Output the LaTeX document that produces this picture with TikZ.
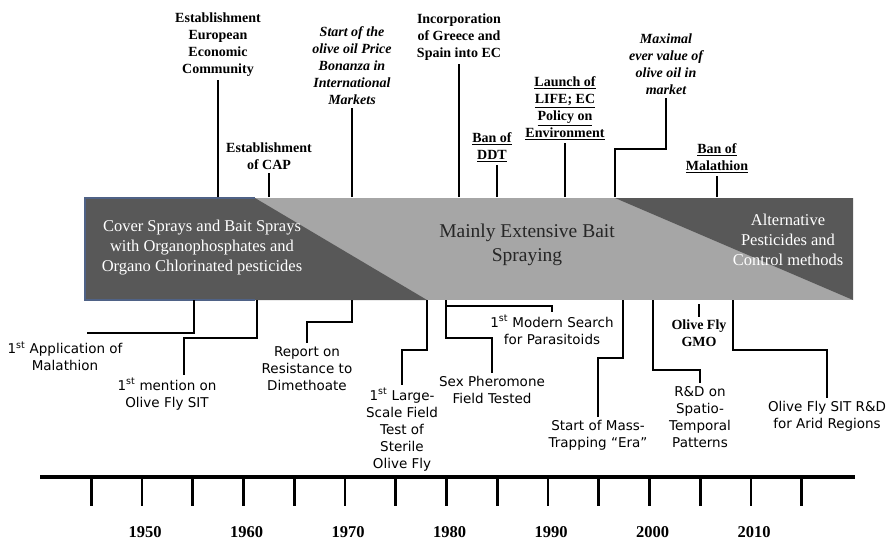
\documentclass[tikz,border=0pt]{standalone}
\usepackage{fontspec}
\setmainfont{Liberation Serif}
\newfontfamily\comicfont{DejaVu Sans}
\usepackage{tikz}
\usepackage{xcolor}
\definecolor{banddark}{HTML}{585858}
\definecolor{bandlight}{HTML}{A6A6A6}
\definecolor{bandedge}{HTML}{4F6286}

\begin{document}
\begin{tikzpicture}[x=1pt, y=-1pt,
    toplabel/.style={align=center, inner sep=3pt, font=\fontsize{14}{17}\selectfont\bfseries},
    topital/.style={toplabel, font=\fontsize{14}{17}\selectfont\bfseries\itshape},
    botlabel/.style={align=center, inner sep=3pt, font=\fontsize{13.5}{17}\selectfont\comicfont},
    bandtext/.style={align=center, white, font=\fontsize{16.5}{20}\selectfont},
    conn/.style={line width=2.2pt},
    yearlabel/.style={font=\fontsize{16.5}{18}\selectfont\bfseries}]
    \useasboundingbox (0,0) rectangle (894,543);

    % the band of periods
    \fill[bandlight] (85,198) rectangle (853,300);
    \fill[banddark] (85,198) -- (255,198) -- (427,300) -- (85,300) -- cycle;
    \draw[bandedge, line width=1.2pt] (255,198) -- (85,198) -- (85,300) -- (255,300);
    \fill[banddark] (615,198) -- (853,198) -- (853,300) -- cycle;

    \node[bandtext] (cover) at (202,248) {Cover Sprays and Bait Sprays\\with Organophosphates and\\Organo Chlorinated pesticides};
    \node[bandtext, black!85, font=\fontsize{19.5}{24}\selectfont] (bait) at (527,245) {Mainly Extensive Bait\\Spraying};
    \node[bandtext] (alt) at (788,240) {Alternative\\Pesticides and\\Control methods};

    % events above
    \coordinate (eec-t) at (218,197);
    \coordinate (cap-t) at (269,197);
    \coordinate (bon-t) at (352,197);
    \coordinate (inc-t) at (459,197);
    \coordinate (ddt-t) at (497,197);
    \coordinate (life-t) at (565,197);
    \coordinate (max-t) at (615,197);
    \coordinate (malban-t) at (717,197);

    \node[toplabel, anchor=south] (eec) at (218,80) {Establishment\\European\\Economic\\Community};
    \node[toplabel, anchor=south] (cap) at (269,173) {Establishment\\of CAP};
    \node[topital, anchor=south] (bon) at (352,108) {Start of the\\olive oil Price\\Bonanza in\\International\\Markets};
    \node[toplabel, anchor=south] (inc) at (459,64) {Incorporation\\of Greece and\\Spain into EC};
    \node[toplabel, anchor=south, xshift=-5pt] (ddt) at (497,165) {\underline{Ban of}\\\underline{DDT}};
    \node[toplabel, anchor=south] (life) at (565,143) {\underline{Launch of}\\\underline{LIFE; EC}\\\underline{Policy on}\\\underline{Environment}};
    \node[topital, anchor=south] (max) at (666,98) {Maximal\\ever value of\\olive oil in\\market};
    \node[toplabel, anchor=south] (malban) at (717,176) {\underline{Ban of}\\\underline{Malathion}};

    \draw[conn] (eec-t) -- (eec.south);
    \draw[conn] (cap-t) -- (cap.south);
    \draw[conn] (bon-t) -- (bon.south);
    \draw[conn] (inc-t) -- (inc.south);
    \draw[conn] (ddt-t) -- (ddt-t |- ddt.south);
    \draw[conn] (life-t) -- (life.south);
    \draw[conn] (max-t) -- ++(0,-48) -| (max.south);
    \draw[conn] (malban-t) -- (malban.south);

    % events below
    \coordinate (mal-b) at (194,300);
    \coordinate (mal-e) at (87,333);
    \coordinate (sit-b) at (257,300);
    \coordinate (sit-e) at (184,375);
    \coordinate (res-b) at (352,300);
    \coordinate (ster-b) at (427,300);
    \coordinate (sex-b) at (446,300);
    \coordinate (para-j) at (446,306);
    \coordinate (mass-b) at (623,300);
    \coordinate (rd-b) at (653,300);
    \coordinate (gmo-t) at (699,304);
    \coordinate (arid-b) at (733,300);

    \node[botlabel] (mal) at (65,356) {1\textsuperscript{st} Application of\\Malathion};
    \node[botlabel, anchor=north, xshift=-17pt] (sit) at (sit-e) {1\textsuperscript{st} mention on\\Olive Fly SIT};
    \node[botlabel, anchor=north] (res) at (307,343) {Report on\\Resistance to\\Dimethoate};
    \node[botlabel, anchor=north] (ster) at (402,385) {1\textsuperscript{st} Large-\\Scale Field\\Test of\\Sterile\\Olive Fly};
    \node[botlabel, anchor=north] (sex) at (492,373) {Sex Pheromone\\Field Tested};
    \node[botlabel, anchor=north] (para) at (552,312) {1\textsuperscript{st} Modern Search\\for Parasitoids};
    \node[botlabel, anchor=north] (mass) at (598,417) {Start of Mass-\\Trapping “Era”};
    \node[botlabel, anchor=north] (rd) at (700,383) {R\&D on\\Spatio-\\Temporal\\Patterns};
    \node[toplabel, anchor=north] (gmo) at (699,317) {Olive Fly\\GMO};
    \node[botlabel, anchor=north] (arid) at (827,398) {Olive Fly SIT R\&D\\for Arid Regions};

    \draw[conn] (mal-b) |- (mal-e);
    \draw[conn] (sit-b) -- ++(0,38) -| (sit-e);
    \draw[conn] (res-b) -- ++(0,22) -| (res.north);
    \draw[conn] (ster-b) -- ++(0,50) -| (ster.north);
    \draw[conn] (sex-b) -- ++(0,38) -| (sex.north);
    \draw[conn] (para-j) -| (para.north);
    \draw[conn] (mass-b) -- ++(0,58) -| (mass.north);
    \draw[conn] (rd-b) -- ++(0,70) -| (rd.north);
    \draw[conn] (gmo-t) -- (gmo.north);
    \draw[conn] (arid-b) -- ++(0,50) -| (arid.north);

    % time axis
    \draw[line width=4.5pt] (40,477) -- (855,477);
    \foreach \yr in {1945,1950,...,2015}
        \draw[line width=2.8pt] ({142+(\yr-1950)*10.15},479) -- ++(0,27);
    \foreach \yr in {1950,1960,...,2010}
        \node[yearlabel] (y\yr) at ({145+(\yr-1950)*10.15},532) {\yr};
\end{tikzpicture}
\end{document}
